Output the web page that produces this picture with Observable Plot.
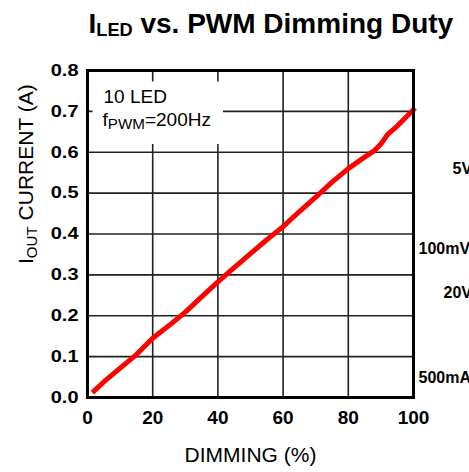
<!DOCTYPE html>
<html><head><meta charset="utf-8">
<script src="https://cdn.jsdelivr.net/npm/d3@7"></script>
<script src="https://cdn.jsdelivr.net/npm/@observablehq/plot@0.6"></script>
<style>
body{margin:0;background:#fff;overflow:hidden}
#chart svg{font-family:"Liberation Sans",Arial,sans-serif;display:block}
</style>
</head><body><div id="chart"></div>
<script>
// ---- data ----
const dimming = [1.5, 5, 10, 15, 20, 25, 30, 35, 40, 45, 50, 55, 60, 65, 70, 75, 80, 85, 88, 90, 92, 95, 98, 100.5];
const current = [0.012, 0.038, 0.072, 0.105, 0.145, 0.176, 0.209, 0.246, 0.283, 0.318, 0.352, 0.386, 0.418, 0.455, 0.490, 0.527, 0.560, 0.588, 0.604, 0.620, 0.643, 0.664, 0.688, 0.708];
const xTicks = [0, 20, 40, 60, 80, 100];
const yTicks = [0, 0.1, 0.2, 0.3, 0.4, 0.5, 0.6, 0.7, 0.8];
const titleParts = [["I", false], ["LED", true], [" vs. PWM Dimming Duty", false]];
const yLabelParts = [["I", false], ["OUT", true], [" CURRENT (A)", false]];
const xLabel = "DIMMING (%)";
const noteLine1 = "10 LED";
const noteLine2Parts = [["f", false], ["PWM", true], ["=200Hz", false]];
const sideLabels = ["5V", "100mV", "20V", "500mA"];

const data = dimming.map((d, i) => ({d, i: current[i]}));
const plain = parts => parts.map(p => p[0]).join("");

const chart = Plot.plot({
  width: 469,
  height: 472,
  marginLeft: 87,
  marginRight: 56,
  marginTop: 70,
  marginBottom: 75,
  x: {domain: [0, 100]},
  y: {domain: [0, 0.8]},
  marks: [
    Plot.gridX(xTicks, {stroke: "#222", strokeOpacity: 1, strokeWidth: 1.6}),
    Plot.gridY(yTicks, {stroke: "#222", strokeOpacity: 1, strokeWidth: 1.6}),
    Plot.axisX(xTicks, {tickSize: 0, tickPadding: 13, fontSize: 19, fontWeight: "bold", fill: "#000", label: null}),
    Plot.axisY(yTicks, {tickSize: 0, tickPadding: 9, fontSize: 20, fontWeight: "bold", fill: "#000", tickFormat: d3.format(".1f"), label: null, className: "yax"}),
    Plot.text([noteLine1], {frameAnchor: "top-left", textAnchor: "start", lineAnchor: "bottom", dx: 16, dy: 32, fontSize: 19, fill: "#000", className: "note"}),
    Plot.text([plain(noteLine2Parts)], {frameAnchor: "top-left", textAnchor: "start", lineAnchor: "bottom", dx: 15, dy: 55, fontSize: 19, fill: "#000", className: "note note2"}),
    Plot.line(data, {x: "d", y: "i", stroke: "#ff0000", strokeWidth: 5, strokeLinejoin: "round", strokeLinecap: "butt"}),
    Plot.frame({stroke: "#000", strokeWidth: 3}),
    Plot.text([plain(titleParts)], {frameAnchor: "top-left", textAnchor: "start", lineAnchor: "bottom", dx: 1, dy: -38, fontSize: 28, fontWeight: "bold", fill: "#000", className: "ttl"}),
    Plot.text([xLabel], {frameAnchor: "bottom", lineAnchor: "bottom", dy: 64, fontSize: 21, fill: "#000"}),
    Plot.text([plain(yLabelParts)], {frameAnchor: "left", rotate: -90, lineAnchor: "bottom", dx: -55, dy: 30, fontSize: 21, fill: "#000", className: "ylab"}),
    Plot.text([sideLabels[0]], {frameAnchor: "top-right", textAnchor: "start", lineAnchor: "bottom", dx: 39, dy: 103, fontSize: 16, fontWeight: "bold", fill: "#000"}),
    Plot.text([sideLabels[1]], {frameAnchor: "top-right", textAnchor: "start", lineAnchor: "bottom", dx: 5, dy: 183, fontSize: 16, fontWeight: "bold", fill: "#000"}),
    Plot.text([sideLabels[2]], {frameAnchor: "top-right", textAnchor: "start", lineAnchor: "bottom", dx: 30, dy: 227, fontSize: 16, fontWeight: "bold", fill: "#000"}),
    Plot.text([sideLabels[3]], {frameAnchor: "top-right", textAnchor: "start", lineAnchor: "bottom", dx: 5, dy: 312, fontSize: 16, fontWeight: "bold", fill: "#000"})
  ]
});
document.getElementById("chart").appendChild(chart);

const svgns = "http://www.w3.org/2000/svg";
function subscript(sel, parts, ratio, shift) {
  const el = chart.querySelector(sel);
  if (!el) return;
  const fs = parseFloat(el.closest("g").getAttribute("font-size")) || 19;
  el.textContent = "";
  let down = false;
  parts.forEach(([t, sub]) => {
    const ts = document.createElementNS(svgns, "tspan");
    ts.textContent = t;
    if (sub) {
      ts.setAttribute("font-size", fs * ratio);
      ts.setAttribute("dy", shift);
      down = true;
    } else if (down) {
      ts.setAttribute("dy", -shift);
      down = false;
    }
    el.appendChild(ts);
  });
}
subscript(".ttl text", titleParts, 0.65, 3);
subscript(".ylab text", yLabelParts, 0.72, 4);
subscript(".note2 text", noteLine2Parts, 0.8, 3.5);

// y tick labels in the reference are wide but short: squash vertically
chart.querySelectorAll(".yax text").forEach(t => {
  const tr = t.getAttribute("transform") || "";
  t.setAttribute("transform", tr + " scale(1,0.82)");
});

// white background box behind the annotation
const notes = chart.querySelectorAll(".note");
let x0 = Infinity, y0 = Infinity, x1 = -Infinity, y1 = -Infinity;
notes.forEach(g => {
  const b = g.getBBox();
  const t = g.getAttribute("transform") || "";
  const m = /translate\(([-\d.]+),\s*([-\d.]+)\)/.exec(t);
  const ox = m ? +m[1] : 0, oy = m ? +m[2] : 0;
  x0 = Math.min(x0, b.x + ox); y0 = Math.min(y0, b.y + oy);
  x1 = Math.max(x1, b.x + b.width + ox); y1 = Math.max(y1, b.y + b.height + oy);
});
if (isFinite(x0)) {
  const r = document.createElementNS(svgns, "rect");
  r.setAttribute("x", x0 - 10); r.setAttribute("y", y0 - 4);
  r.setAttribute("width", x1 - x0 + 22); r.setAttribute("height", y1 - y0 + 16);
  r.setAttribute("fill", "#fff");
  notes[0].parentNode.insertBefore(r, notes[0]);
}
</script>
</body></html>
